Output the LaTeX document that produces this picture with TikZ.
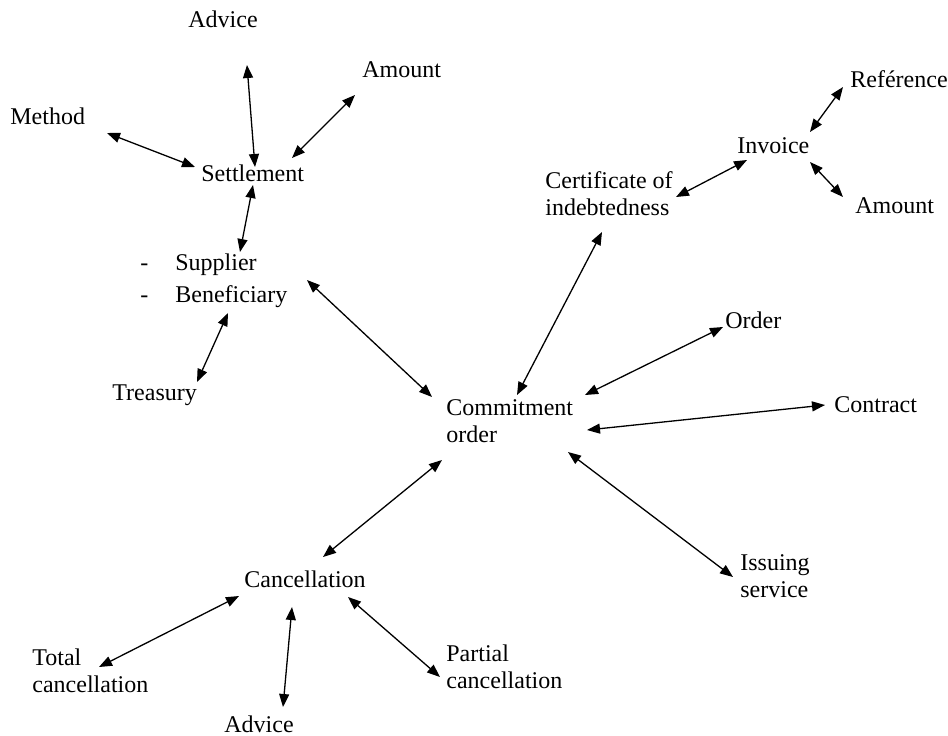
\documentclass[tikz,border=0pt]{standalone}
\usepackage{fontspec}
\setmainfont{Liberation Serif}
\usetikzlibrary{arrows.meta}

\begin{document}
\begin{tikzpicture}[x=0.5pt, y=-0.5pt,
    lbl/.style={anchor=base west, inner sep=0pt, align=left,
      font=\fontsize{12}{13.5}\selectfont},
    link/.style={{Triangle[length=6.5pt,width=5pt]}-{Triangle[length=6.5pt,width=5pt]}, line width=0.65pt}]

  \useasboundingbox (0, 0) rectangle (948, 735);

  % settlement side
  \node[lbl] (adviceT) at (188, 27) {Advice};
  \node[lbl] (amountT) at (362, 77) {Amount};
  \node[lbl] (method) at (10, 124) {Method};
  \node[lbl] (settle) at (201, 181) {Settlement};
  \node[lbl] (party) at (140, 302)
    {\makebox[17.5pt][l]{-}Supplier\\[2.5pt]\makebox[17.5pt][l]{-}Beneficiary};
  \node[lbl] (treasury) at (112, 400) {Treasury};

  % centre and right side
  \node[lbl] (commit) at (446, 442) {Commitment\\order};
  \node[lbl] (cert) at (545, 215) {Certificate of\\indebtedness};
  \node[lbl] (invoice) at (737, 153) {Invoice};
  \node[lbl] (ref) at (850, 87) {Reférence};
  \node[lbl] (amountR) at (855, 213) {Amount};
  \node[lbl] (order) at (725, 328) {Order};
  \node[lbl] (contract) at (834, 412) {Contract};
  \node[lbl] (issuing) at (740, 597) {Issuing\\service};

  % cancellation side
  \node[lbl] (cancel) at (244, 587) {Cancellation};
  \node[lbl] (total) at (32, 692) {Total\\cancellation};
  \node[lbl] (partial) at (446, 688) {Partial\\cancellation};
  \node[lbl] (adviceB) at (224, 732) {Advice};

  \foreach \a/\da/\b/\db in {
      settle/{54,-14}/adviceT/{59,38},
      settle/{91,-23}/amountT/{-7,18},
      settle/{-6,-14}/method/{97,9},
      settle/{52,4}/party/{100,-50},
      party/{88,11}/treasury/{85,-18},
      party/{167,-22}/commit/{-14,-45},
      commit/{71,-47}/cert/{57,17},
      cert/{131,-18}/invoice/{10,7},
      invoice/{73,-21}/ref/{-7,0},
      invoice/{73,9}/amountR/{-12,-16},
      commit/{139,-47}/order/{-2,-1},
      commit/{141,-12}/contract/{-9,-7},
      commit/{122,10}/issuing/{-7,-20},
      commit/{-4,18}/cancel/{79,-30},
      cancel/{-5,9}/total/{67,-25},
      cancel/{48,20}/adviceB/{59,-25},
      cancel/{104,10}/partial/{-6,-11}} {
    \draw[link] ([shift={(\da)}]\a.base west) -- ([shift={(\db)}]\b.base west);
  }

\end{tikzpicture}
\end{document}
